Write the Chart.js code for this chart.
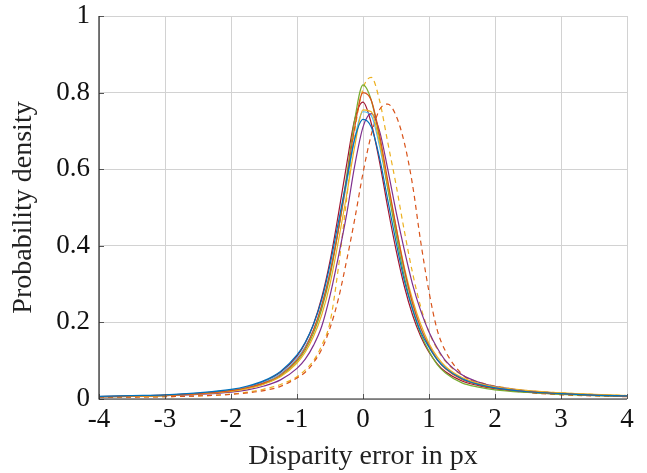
<!DOCTYPE html>
<html>
<head>
<meta charset="utf-8">
<script src="https://cdn.jsdelivr.net/npm/chart.js@4"></script>
<style>
  html, body { margin: 0; padding: 0; background: #fff; }
  #wrap { width: 647px; height: 473px; }
</style>
</head>
<body>
<div id="wrap"><canvas id="grafico" width="647" height="473"></canvas></div>
<script>
// disparity error (px) where each curve was read
var errores = [-4,-3.5,-3,-2.5,-2,-1.75,-1.5,-1.25,-1,-0.875,-0.75,-0.625,-0.5,-0.375,-0.25,-0.125,0,0.125,0.25,0.375,0.5,0.625,0.75,0.875,1,1.125,1.25,1.5,1.75,2,2.5,3,3.5,4];

var azul      = [0.007,0.009,0.011,0.016,0.025,0.034,0.048,0.072,0.115,0.148,0.195,0.26,0.35,0.46,0.57,0.68,0.73,0.71,0.63,0.52,0.41,0.31,0.235,0.175,0.135,0.102,0.08,0.053,0.038,0.029,0.019,0.014,0.010,0.008];
var naranja   = [0.006,0.008,0.010,0.014,0.022,0.030,0.042,0.063,0.102,0.133,0.18,0.245,0.33,0.44,0.57,0.71,0.80,0.78,0.69,0.57,0.45,0.34,0.25,0.185,0.138,0.103,0.079,0.051,0.037,0.028,0.019,0.014,0.010,0.008];
var amarillo  = [0.006,0.007,0.009,0.013,0.020,0.027,0.039,0.058,0.094,0.122,0.163,0.22,0.30,0.41,0.53,0.66,0.755,0.75,0.67,0.56,0.45,0.345,0.26,0.195,0.145,0.11,0.085,0.056,0.041,0.032,0.022,0.016,0.012,0.009];
var morado    = [0.006,0.007,0.009,0.012,0.018,0.024,0.034,0.05,0.08,0.104,0.14,0.19,0.27,0.37,0.48,0.61,0.71,0.745,0.70,0.60,0.49,0.39,0.30,0.23,0.175,0.133,0.10,0.063,0.044,0.033,0.021,0.015,0.011,0.008];
var verde     = [0.006,0.007,0.009,0.013,0.021,0.028,0.040,0.060,0.098,0.128,0.172,0.235,0.32,0.44,0.58,0.73,0.82,0.78,0.68,0.55,0.43,0.32,0.235,0.17,0.125,0.09,0.068,0.042,0.031,0.024,0.017,0.012,0.009,0.007];
var celeste   = [0.006,0.008,0.010,0.015,0.023,0.031,0.044,0.066,0.106,0.137,0.181,0.243,0.33,0.44,0.56,0.68,0.75,0.74,0.66,0.55,0.44,0.335,0.25,0.185,0.14,0.105,0.082,0.054,0.039,0.030,0.020,0.015,0.011,0.008];
var granate   = [0.006,0.008,0.010,0.015,0.023,0.032,0.046,0.07,0.112,0.146,0.195,0.265,0.36,0.48,0.61,0.73,0.775,0.72,0.62,0.50,0.39,0.295,0.22,0.163,0.122,0.092,0.071,0.047,0.035,0.027,0.018,0.013,0.010,0.007];
var naranjaDiscontinua  = [0.004,0.005,0.006,0.008,0.012,0.016,0.022,0.033,0.055,0.07,0.095,0.13,0.185,0.26,0.36,0.47,0.59,0.69,0.755,0.77,0.74,0.67,0.56,0.41,0.28,0.18,0.125,0.065,0.04,0.028,0.017,0.011,0.008,0.006];
var amarilloDiscontinua = [0.004,0.005,0.006,0.008,0.013,0.018,0.026,0.038,0.058,0.076,0.10,0.14,0.20,0.34,0.52,0.70,0.81,0.84,0.78,0.67,0.56,0.44,0.33,0.24,0.175,0.13,0.098,0.062,0.044,0.034,0.022,0.016,0.012,0.009];

var ticksX = [-4,-3,-2,-1,0,1,2,3,4];
var ticksY = [0,0.2,0.4,0.6,0.8,1];

var fuente = "'Liberation Serif', 'Times New Roman', serif";

function puntos(valores){
  var res = [];
  for (var i = 0; i < errores.length; i++) {
    res.push({x: errores[i], y: valores[i]});
  }
  return res;
}

function serie(valores, color, discontinua){
  return {
    data: puntos(valores),
    borderColor: color,
    borderWidth: 1.2,
    borderDash: discontinua ? [5, 4] : [],
    pointRadius: 0,
    fill: false,
    cubicInterpolationMode: 'monotone'
  };
}

// short tick marks pointing into the plot, like the original
var marcasInternas = {
  id: 'marcasInternas',
  afterDatasetsDraw: function(chart){
    var ctx = chart.ctx;
    var area = chart.chartArea;
    var sx = chart.scales.x, sy = chart.scales.y;
    ctx.save();
    ctx.strokeStyle = '#555555';
    ctx.lineWidth = 1;
    ctx.beginPath();
    ticksX.forEach(function(v){
      var px = Math.round(sx.getPixelForValue(v)) + 0.5;
      ctx.moveTo(px, area.bottom);
      ctx.lineTo(px, area.bottom - 5);
    });
    ticksY.forEach(function(v){
      var py = Math.round(sy.getPixelForValue(v)) + 0.5;
      ctx.moveTo(area.left, py);
      ctx.lineTo(area.left + 5, py);
    });
    ctx.stroke();
    // dark left and bottom axis lines
    ctx.strokeStyle = '#262626';
    ctx.lineWidth = 1.2;
    ctx.beginPath();
    ctx.moveTo(area.left, area.top);
    ctx.lineTo(area.left, area.bottom);
    ctx.lineTo(area.right, area.bottom);
    ctx.stroke();
    ctx.restore();
  }
};

var contexto = document.getElementById('grafico').getContext('2d');
var myChart = new Chart(contexto, {
  type: 'line',
  data: {
    datasets: [
      serie(azul, '#0072BD', false),
      serie(naranja, '#D95319', false),
      serie(amarillo, '#EDB120', false),
      serie(morado, '#7E2F8E', false),
      serie(verde, '#77AC30', false),
      serie(celeste, '#4DBEEE', false),
      serie(granate, '#A2142F', false),
      serie(naranjaDiscontinua, '#D95319', true),
      serie(amarilloDiscontinua, '#EDB120', true)
    ]
  },
  options: {
    responsive: false,
    animation: false,
    devicePixelRatio: 1,
    layout: { padding: { left: 0, right: 20, top: 16, bottom: 0 } },
    plugins: {
      legend: { display: false },
      tooltip: { enabled: false }
    },
    scales: {
      x: {
        type: 'linear',
        min: -4,
        max: 4,
        afterFit: function(scale){
          scale.height = 74;
          scale.paddingLeft = 0;
          scale.paddingRight = 0;
        },
        afterBuildTicks: function(scale){
          scale.ticks = ticksX.map(function(v){ return {value: v}; });
        },
        ticks: {
          color: '#111',
          padding: 5,
          maxRotation: 0,
          font: { family: fuente, size: 27 },
          callback: function(v){ return String(v); }
        },
        grid: { color: '#d2d2d2', lineWidth: 1, drawTicks: false },
        border: { display: false },
        title: {
          display: true,
          text: 'Disparity error in px',
          color: '#222',
          font: { family: fuente, size: 28 },
          padding: { top: 0, bottom: 0 }
        }
      },
      y: {
        type: 'linear',
        min: 0,
        max: 1,
        afterFit: function(scale){
          scale.width = 99;
          scale.paddingTop = 0;
          scale.paddingBottom = 0;
        },
        afterBuildTicks: function(scale){
          scale.ticks = ticksY.map(function(v){ return {value: v}; });
        },
        ticks: {
          color: '#111',
          padding: 9,
          font: { family: fuente, size: 27 },
          callback: function(v){ return String(v); }
        },
        grid: { color: '#d2d2d2', lineWidth: 1, drawTicks: false },
        border: { display: false },
        title: {
          display: true,
          text: 'Probability density',
          color: '#222',
          font: { family: fuente, size: 28 },
          padding: { top: 7, bottom: 0 }
        }
      }
    }
  },
  plugins: [marcasInternas]
});
</script>
</body>
</html>
